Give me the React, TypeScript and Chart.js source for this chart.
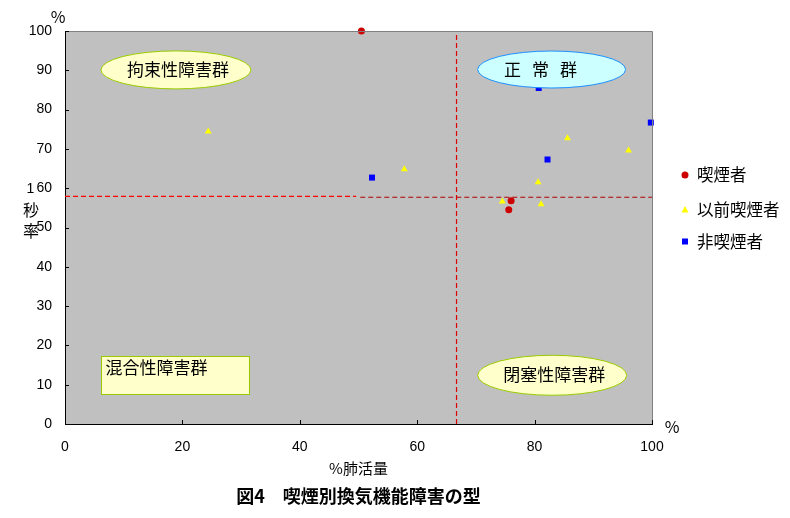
import React, { useEffect, useRef } from 'react';
import { Chart, registerables } from 'chart.js';

Chart.register(...registerables);

// ---- data ----
const seriesNames = ['喫煙者', '以前喫煙者', '非喫煙者'];

const smokerX = [50.5, 76.0, 75.6];
const smokerY = [100, 56.8, 54.5];

const formerX = [24.4, 57.8, 85.6, 96.0, 80.6, 74.5, 81.1];
const formerY = [74.4, 64.8, 72.7, 69.6, 61.5, 56.6, 55.9];

const nonX = [52.3, 80.7, 99.8, 82.2];
const nonY = [62.7, 85.5, 76.7, 67.3];

const xTicks = [0, 20, 40, 60, 80, 100];
const yTicks = [0, 10, 20, 30, 40, 50, 60, 70, 80, 90, 100];

// reference lines (%VC cut-off and FEV1% cut-off)
const vcCutX = [66.7, 66.7];
const vcCutY = [0, 100];
const fevLeftX = [0, 49.6];
const fevLeftY = [57.9, 57.9];
const fevRightX = [50.3, 100];
const fevRightY = [57.7, 57.7];

const groupLabels = ['拘束性障害群', '正常群', '閉塞性障害群', '混合性障害群'];

const zip = (xs: number[], ys: number[]) => xs.map((x, i) => ({ x, y: ys[i] }));

const JP = '"Noto Sans CJK JP", sans-serif';
const LAT = '"Liberation Sans", Arial, sans-serif';

const decor = {
  id: 'decor',
  beforeDraw(chart: any) {
    const { ctx, chartArea: a } = chart;
    ctx.save();
    ctx.fillStyle = '#c0c0c0';
    ctx.fillRect(a.left, a.top, a.right - a.left, a.bottom - a.top);
    ctx.restore();
  },
  afterDatasetsDraw(chart: any) {
    const { ctx } = chart;
    const xs = chart.scales.x;
    const ys = chart.scales.y;
    const px = (v: number) => xs.getPixelForValue(v);
    const py = (v: number) => ys.getPixelForValue(v);
    ctx.save();
    const ellipse = (cx: number, cy: number, rx: number, ry: number, fill: string, stroke: string) => {
      ctx.beginPath();
      ctx.ellipse(cx, cy, rx, ry, 0, 0, Math.PI * 2);
      ctx.fillStyle = fill;
      ctx.fill();
      ctx.lineWidth = 1;
      ctx.strokeStyle = stroke;
      ctx.stroke();
    };
    ctx.textBaseline = 'middle';
    ctx.fillStyle = '#000';
    // 拘束性障害群
    {
      const cx = px(18.9), cy = py(90.1);
      ellipse(cx, cy, 75, 19, '#ffffcc', '#99cc00');
      ctx.fillStyle = '#000';
      ctx.font = `17px ${JP}`;
      ctx.textAlign = 'center';
      ctx.fillText(groupLabels[0], cx + 2, cy);
    }
    // 正常群
    {
      const cx = px(82.9), cy = py(90.2);
      ellipse(cx, cy, 74, 18.5, '#ccffff', '#1e90ff');
      ctx.fillStyle = '#000';
      ctx.font = `17px ${JP}`;
      ctx.textAlign = 'center';
      const chars = groupLabels[1].split('');
      const offs = [-39, -11, 17];
      chars.forEach((c, i) => ctx.fillText(c, cx + offs[i], cy));
    }
    // 閉塞性障害群
    {
      const cx = px(83.0), cy = py(12.4);
      ellipse(cx, cy, 74.5, 20, '#ffffcc', '#99cc00');
      ctx.fillStyle = '#000';
      ctx.font = `17px ${JP}`;
      ctx.textAlign = 'center';
      ctx.fillText(groupLabels[2], cx + 2, cy - 1);
    }
    // 混合性障害群
    {
      const l = Math.round(px(6.1)) + 0.5, r = Math.round(px(31.3)) + 0.5;
      const t = Math.round(py(17.2)) + 0.5, b = Math.round(py(7.6)) + 0.5;
      ctx.fillStyle = '#ffffcc';
      ctx.fillRect(l, t, r - l, b - t);
      ctx.strokeStyle = '#99cc00';
      ctx.lineWidth = 1;
      ctx.strokeRect(l, t, r - l, b - t);
      ctx.fillStyle = '#000';
      ctx.font = `17px ${JP}`;
      ctx.textAlign = 'left';
      ctx.fillText(groupLabels[3], l + 4, t + 11);
    }
    ctx.restore();
  },
  afterDraw(chart: any) {
    const { ctx, chartArea: a } = chart;
    const xs = chart.scales.x;
    const ys = chart.scales.y;
    ctx.save();
    // top/right frame
    ctx.strokeStyle = '#808080';
    ctx.lineWidth = 1;
    ctx.beginPath();
    ctx.moveTo(a.left, Math.round(a.top) + 0.5);
    ctx.lineTo(Math.round(a.right) + 0.5, Math.round(a.top) + 0.5);
    ctx.lineTo(Math.round(a.right) + 0.5, a.bottom);
    ctx.stroke();
    // inward tick marks
    ctx.strokeStyle = '#000';
    ctx.beginPath();
    xs.ticks.forEach((t: any) => {
      const x = Math.round(xs.getPixelForValue(t.value)) + 0.5;
      ctx.moveTo(x, a.bottom);
      ctx.lineTo(x, a.bottom - 4);
    });
    ys.ticks.forEach((t: any) => {
      const y = Math.round(ys.getPixelForValue(t.value)) + 0.5;
      ctx.moveTo(a.left, y);
      ctx.lineTo(a.left + 4, y);
    });
    ctx.stroke();

    // axis unit marks and vertical y title
    ctx.fillStyle = '#000';
    ctx.textBaseline = 'middle';
    ctx.textAlign = 'center';
    ctx.font = `16px ${JP}`;
    ctx.fillText('%', 58, 17);
    ctx.fillText('%', 672, 427);
    ctx.font = `14px ${LAT}`;
    ctx.fillText('1', 30.5, ys.getPixelForValue(60) + 1);
    ctx.font = `16px ${JP}`;
    ctx.fillText('秒', 31, 210);
    ctx.fillText('率', 31, 231);

    // legend
    const lx = 685;
    const ly = [175, 210, 241.5];
    const metas = [0, 1, 2].map((i) => chart.data.datasets[i]);
    metas.forEach((ds: any, i: number) => {
      const y = ly[i];
      ctx.fillStyle = ds.backgroundColor;
      ctx.beginPath();
      if (ds.pointStyle === 'circle') {
        ctx.arc(lx, y, 3.5, 0, Math.PI * 2);
      } else if (ds.pointStyle === 'triangle') {
        ctx.moveTo(lx, y - 4);
        ctx.lineTo(lx + 3.5, y + 2.5);
        ctx.lineTo(lx - 3.5, y + 2.5);
        ctx.closePath();
      } else {
        ctx.rect(lx - 3, y - 3, 6, 6);
      }
      ctx.fill();
      ctx.fillStyle = '#000';
      ctx.textAlign = 'left';
      ctx.font = `16.5px ${JP}`;
      ctx.fillText(ds.label, 697, y);
    });
    ctx.restore();
  },
};

export default function App() {
  const ref = useRef<HTMLCanvasElement | null>(null);
  useEffect(() => {
    if (!ref.current) return;
    const lineDs = (label: string, xs: number[], ys: number[], color: string) => ({
      type: 'scatter' as const,
      label,
      data: zip(xs, ys),
      showLine: true,
      borderColor: color,
      borderWidth: 1.2,
      borderDash: [5, 3],
      pointRadius: 0,
      pointHoverRadius: 0,
      clip: false,
    });
    const chart = new Chart(ref.current, {
      type: 'scatter',
      data: {
        datasets: [
          {
            label: seriesNames[0],
            data: zip(smokerX, smokerY),
            pointStyle: 'circle',
            pointRadius: 3.5,
            backgroundColor: '#cc0000',
            borderColor: '#cc0000',
            borderWidth: 0,
            clip: false,
            order: 1,
          } as any,
          {
            label: seriesNames[1],
            data: zip(formerX, formerY),
            pointStyle: 'triangle',
            pointRadius: 4,
            backgroundColor: '#ffff00',
            borderColor: '#ffff00',
            borderWidth: 0,
            clip: false,
            order: 1,
          } as any,
          {
            label: seriesNames[2],
            data: zip(nonX, nonY),
            pointStyle: 'rect',
            pointRadius: 4.25,
            backgroundColor: '#0000ff',
            borderColor: '#0000ff',
            borderWidth: 0,
            clip: false,
            order: 1,
          } as any,
          { ...lineDs('vc', vcCutX, vcCutY, '#dd0000'), order: 2 } as any,
          { ...lineDs('fevL', fevLeftX, fevLeftY, '#ff0000'), order: 2 } as any,
          { ...lineDs('fevR', fevRightX, fevRightY, '#b00000'), order: 2 } as any,
        ],
      },
      options: {
        animation: false,
        responsive: false,
        events: [],
        layout: { padding: { left: 0, top: 31, right: 138, bottom: 0 } },
        plugins: {
          legend: { display: false },
          tooltip: { enabled: false },
          title: {
            display: true,
            position: 'bottom',
            fullSize: false,
            text: '図4　喫煙別換気機能障害の型',
            color: '#000',
            font: { family: JP, size: 18, weight: 'bold', lineHeight: 1.2 },
            padding: { top: 0, bottom: 11 },
          },
        },
        scales: {
          x: {
            type: 'linear',
            min: 0,
            max: 100,
            afterBuildTicks: (s: any) => {
              s.ticks = xTicks.map((v) => ({ value: v }));
            },
            afterFit: (s: any) => {
              s.height = 61.4;
            },
            ticks: {
              color: '#000',
              font: { family: LAT, size: 14 },
              padding: 15,
              maxRotation: 0,
              callback: (v: any) => String(v),
            },
            grid: { display: false, drawTicks: false },
            border: { display: true, color: '#000', width: 1 },
            title: {
              display: true,
              text: '%肺活量',
              color: '#000',
              font: { family: JP, size: 15, lineHeight: 1.2 },
              padding: { top: 0, bottom: 8 },
            },
          },
          y: {
            type: 'linear',
            min: 0,
            max: 100,
            afterBuildTicks: (s: any) => {
              s.ticks = yTicks.map((v) => ({ value: v }));
            },
            afterFit: (s: any) => {
              s.width = 65;
            },
            ticks: {
              color: '#000',
              font: { family: LAT, size: 14 },
              padding: 13,
              callback: (v: any) => String(v),
            },
            grid: { display: false, drawTicks: false },
            border: { display: true, color: '#000', width: 1 },
          },
        },
      },
      plugins: [decor],
    } as any);
    return () => chart.destroy();
  }, []);
  return (
    <div style={{ position: 'absolute', left: 0, top: 0, width: 790, height: 518, background: '#fff' }}>
      <canvas ref={ref} width={790} height={518} style={{ width: 790, height: 518, display: 'block' }} />
    </div>
  );
}
